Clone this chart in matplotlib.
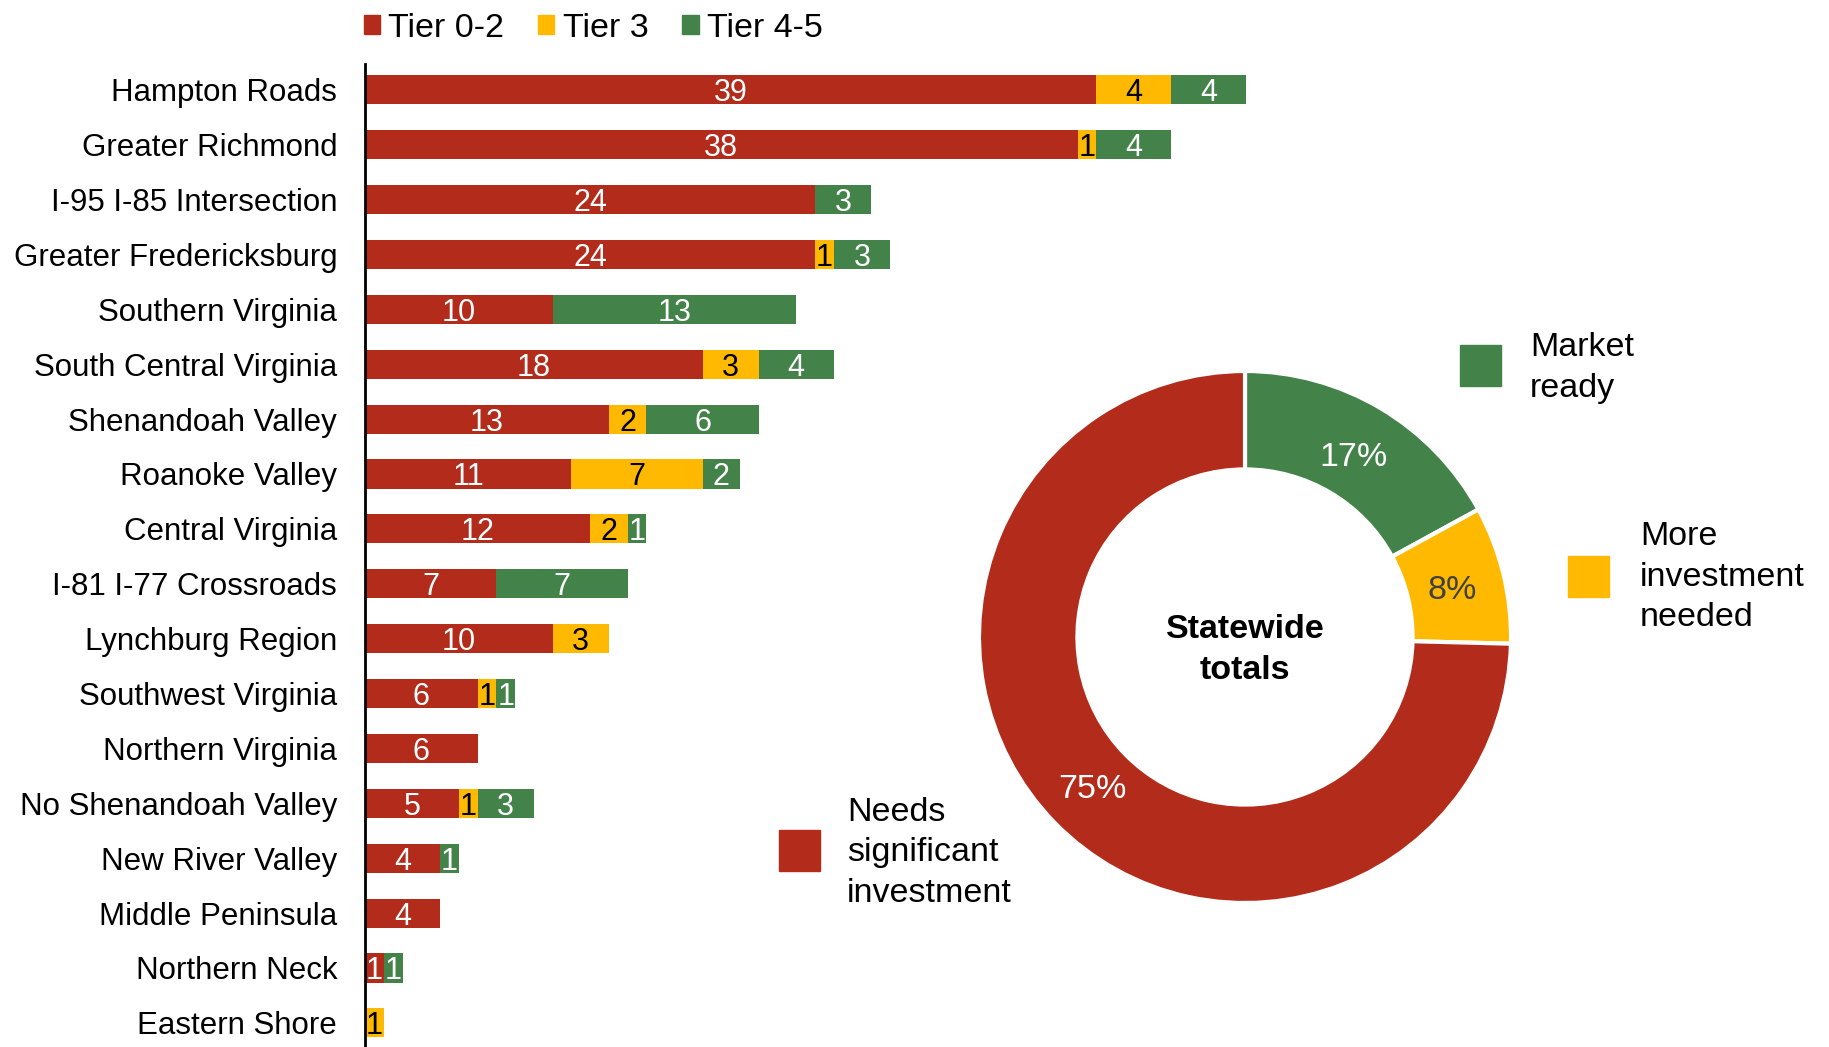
import math
import matplotlib.pyplot as plt
from matplotlib.patches import Patch, Rectangle

plt.rcParams['font.family'] = ['Liberation Sans', 'DejaVu Sans']

regions = ['Hampton Roads', 'Greater Richmond', 'I-95 I-85 Intersection',
           'Greater Fredericksburg', 'Southern Virginia', 'South Central Virginia',
           'Shenandoah Valley', 'Roanoke Valley', 'Central Virginia',
           'I-81 I-77 Crossroads', 'Lynchburg Region', 'Southwest Virginia',
           'Northern Virginia', 'No Shenandoah Valley', 'New River Valley',
           'Middle Peninsula', 'Northern Neck', 'Eastern Shore']
tier02 = [39, 38, 24, 24, 10, 18, 13, 11, 12, 7, 10, 6, 6, 5, 4, 4, 1, 0]
tier3 = [4, 1, 0, 1, 0, 3, 2, 7, 2, 0, 3, 1, 0, 1, 0, 0, 0, 1]
tier45 = [4, 4, 3, 3, 13, 4, 6, 2, 1, 7, 0, 1, 0, 3, 1, 0, 1, 0]

series_names = ['Tier 0-2', 'Tier 3', 'Tier 4-5']
donut_labels = ['Market\nready', 'More\ninvestment\nneeded', 'Needs\nsignificant\ninvestment']

RED = '#B32B1B'
YELLOW = '#FFB900'
GREEN = '#43834A'

W, H = 1829, 1047
fig = plt.figure(figsize=(W / 100, H / 100), dpi=100)

# stacked bars
ax = fig.add_axes([365 / W, 0, 937.5 / W, 983 / H])
y = list(range(len(regions)))
lefts = [0] * len(regions)
for vals, col, txt, name in [(tier02, RED, 'white', series_names[0]),
                             (tier3, YELLOW, 'black', series_names[1]),
                             (tier45, GREEN, 'white', series_names[2])]:
    bars = ax.barh(y, vals, left=lefts, height=0.53, color=col, label=name)
    for b, v in zip(bars, vals):
        if v > 0:
            ax.text(b.get_x() + b.get_width() / 2, b.get_y() + b.get_height() / 2,
                    str(v), ha='center', va='center_baseline', color=txt, fontsize=22)
    lefts = [l + v for l, v in zip(lefts, vals)]

ax.set_xlim(0, 50)
ax.set_ylim(17.44, -0.47)
ax.set_yticks(y)
ax.set_yticklabels(regions, fontsize=22.5)
ax.tick_params(axis='y', length=0, pad=20)
ax.set_xticks([])
for s in ['top', 'right', 'bottom']:
    ax.spines[s].set_visible(False)
ax.spines['left'].set_linewidth(2)
ax.patch.set_alpha(0)

handles = [Patch(color=c) for c in (RED, YELLOW, GREEN)]
fig.legend(handles, series_names, loc='upper left', bbox_to_anchor=(333 / W, 1.017),
           ncol=3, frameon=False, fontsize=24.5, handlelength=0.48, handleheight=0.48,
           handletextpad=0.24, columnspacing=1.0)

# statewide donut
totals = [sum(tier45), sum(tier3), sum(tier02)]
grand = sum(totals)
cx, cy, r = 1245, 637, 266
dax = fig.add_axes([(cx - r) / W, (H - cy - r) / H, 2 * r / W, 2 * r / H])
wedges, _ = dax.pie(totals, colors=[GREEN, YELLOW, RED], startangle=90, counterclock=False,
                    radius=1, wedgeprops=dict(width=0.37, edgecolor='white', linewidth=3))
pct_colors = ['white', '#404040', 'white']
for w, v, c in zip(wedges, totals, pct_colors):
    ang = math.radians((w.theta1 + w.theta2) / 2)
    dax.text(0.8 * math.cos(ang), 0.8 * math.sin(ang), f'{round(100 * v / grand)}%',
             ha='center', va='center_baseline', color=c, fontsize=24.5)
dax.text(0, -0.05, 'Statewide\ntotals', ha='center', va='center', fontsize=24.5,
         fontweight='bold', linespacing=1.42)
dax.set_xlim(-1, 1)
dax.set_ylim(-1, 1)
dax.set_aspect('equal')
dax.axis('off')

# donut legend
for (sx, sy, tx, ty), col, lab in zip([(1460, 345, 1530, 368), (1568, 556, 1640, 577),
                                       (779, 830, 847, 853)],
                                      [GREEN, YELLOW, RED], donut_labels):
    fig.patches.append(Rectangle((sx / W, 1 - (sy + 41) / H), 41 / W, 41 / H,
                                 color=col, transform=fig.transFigure))
    fig.text(tx / W, 1 - ty / H, lab, ha='left', va='center',
             fontsize=24.5, linespacing=1.39)

fig.savefig('out.png', dpi=100)
